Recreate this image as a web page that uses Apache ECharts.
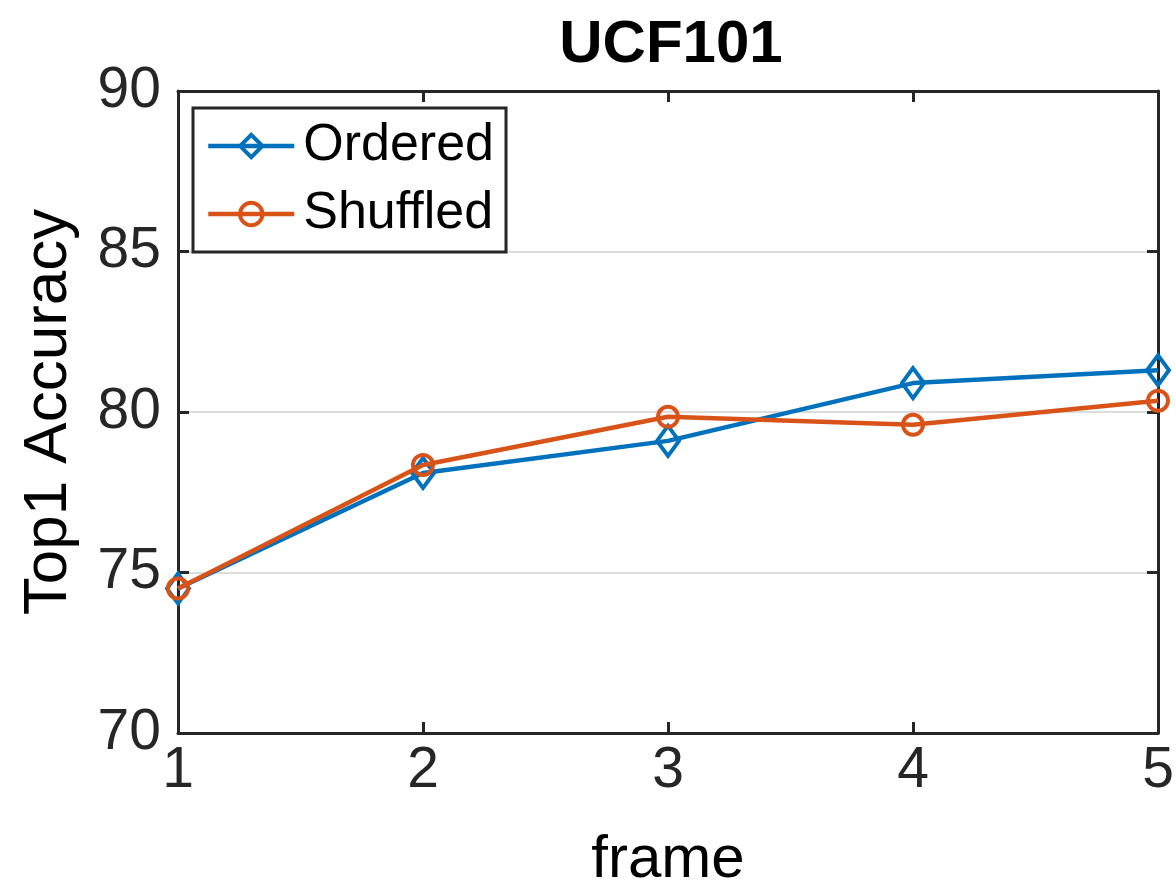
<!DOCTYPE html>
<html>
<head>
<meta charset="utf-8">
<script src="https://cdn.jsdelivr.net/npm/echarts@6/dist/echarts.min.js"></script>
<style>
html,body{margin:0;padding:0;background:#fff;}
#chart{width:1176px;height:890px;}
</style>
</head>
<body>
<div id="chart"></div>
<script>
const frames = [1, 2, 3, 4, 5];
const ordered = [74.5, 78.1, 79.1, 80.9, 81.3];
const shuffled = [74.5, 78.35, 79.85, 79.6, 80.35];
const seriesNames = ['Ordered', 'Shuffled'];
const titleText = 'UCF101';
const xLabel = 'frame';
const yLabel = 'Top1 Accuracy';

const FONT = '"Liberation Sans", Arial, Helvetica, sans-serif';
const AX = '#262626';

const chart = echarts.init(document.getElementById('chart'), null, {renderer: 'canvas'});

function pairs(vals) { return frames.map((f, i) => [f, vals[i]]); }

const option = {
  backgroundColor: '#fff',
  animation: false,
  title: {
    text: titleText,
    left: 666, top: 10, textAlign: 'center',
    textStyle: {fontFamily: FONT, fontSize: 60, fontWeight: 'bold', color: '#000'}
  },
  grid: {left: 178, right: 18, top: 91, bottom: 157, containLabel: false, outerBoundsMode: 'none'},
  legend: {
    orient: 'vertical',
    left: 193, top: 108,
    itemWidth: 86, itemHeight: 28,
    itemGap: 16,
    padding: [12, 12, 12, 13],
    borderColor: AX, borderWidth: 3,
    backgroundColor: '#fff',
    lineStyle: {width: 4.5},
    itemStyle: {borderWidth: 4},
    textStyle: {fontFamily: FONT, fontSize: 52, color: '#000', padding: [0, 0, 0, 4]},
    data: seriesNames
  },
  xAxis: [{
    type: 'value', min: 1, max: 5, interval: 1, position: 'bottom',
    name: xLabel, nameLocation: 'middle', nameGap: 97,
    nameTextStyle: {fontFamily: FONT, fontSize: 60, color: '#000'},
    axisLine: {show: true, onZero: false, lineStyle: {color: AX, width: 3}},
    axisTick: {show: true, inside: true, length: 11, lineStyle: {color: AX, width: 3}},
    axisLabel: {fontFamily: FONT, fontSize: 57, color: '#262626', margin: 10},
    splitLine: {show: false}
  }, {
    type: 'value', min: 1, max: 5, interval: 1, position: 'top',
    axisLine: {show: true, onZero: false, lineStyle: {color: AX, width: 3}},
    axisTick: {show: true, inside: true, length: 11, lineStyle: {color: AX, width: 3}},
    axisLabel: {show: false}, splitLine: {show: false}
  }],
  yAxis: [{
    type: 'value', min: 70, max: 90, interval: 5, position: 'left',
    name: yLabel, nameLocation: 'middle', nameGap: 98,
    nameTextStyle: {fontFamily: FONT, fontSize: 62, color: '#000'},
    axisLine: {show: true, onZero: false, lineStyle: {color: AX, width: 3}},
    axisTick: {show: true, inside: true, length: 11, lineStyle: {color: AX, width: 3}},
    axisLabel: {fontFamily: FONT, fontSize: 57, color: '#262626', margin: 17},
    splitLine: {show: true, lineStyle: {color: '#dcdcdc', width: 2}}
  }, {
    type: 'value', min: 70, max: 90, interval: 5, position: 'right',
    axisLine: {show: true, onZero: false, lineStyle: {color: AX, width: 3}},
    axisTick: {show: true, inside: true, length: 11, lineStyle: {color: AX, width: 3}},
    axisLabel: {show: false}, splitLine: {show: false}
  }],
  series: [{
    name: seriesNames[0], type: 'line', xAxisIndex: 0, yAxisIndex: 0,
    data: pairs(ordered), clip: false,
    symbol: 'diamond', symbolSize: [22, 30], showAllSymbol: true,
    lineStyle: {color: '#0072BD', width: 4.5},
    itemStyle: {color: 'rgba(255,255,255,0)', borderColor: '#0072BD', borderWidth: 4},
    z: 3
  }, {
    name: seriesNames[1], type: 'line', xAxisIndex: 0, yAxisIndex: 0,
    data: pairs(shuffled), clip: false,
    symbol: 'circle', symbolSize: 20, showAllSymbol: true,
    lineStyle: {color: '#D95319', width: 4.5},
    itemStyle: {color: 'rgba(255,255,255,0)', borderColor: '#D95319', borderWidth: 4},
    z: 4
  }]
};
chart.setOption(option);
</script>
</body>
</html>
